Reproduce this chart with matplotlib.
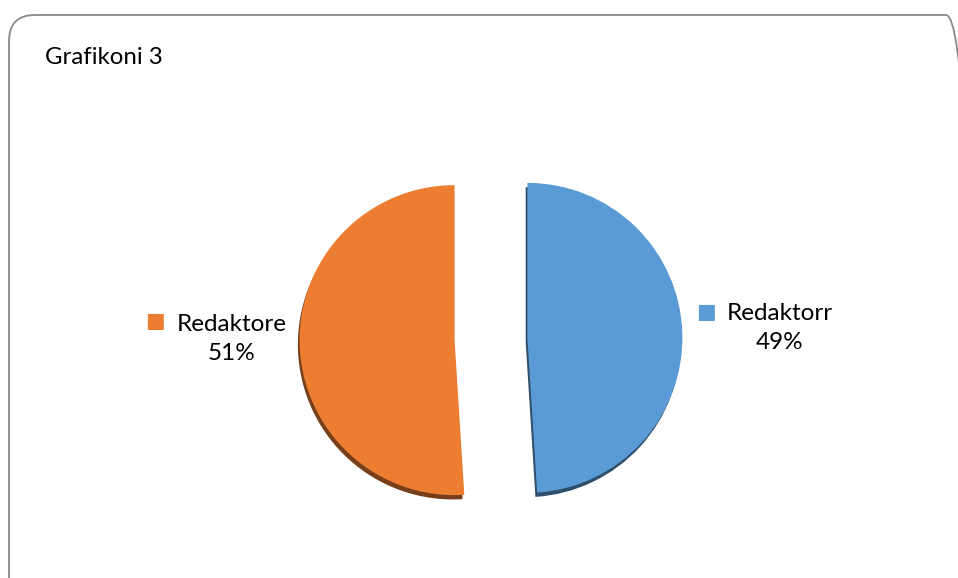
import matplotlib.pyplot as plt
from matplotlib.patches import FancyBboxPatch

labels = ['Redaktorr', 'Redaktore']
values = [49, 51]
colors = ['#5B9BD5', '#ED7D31']
title = 'Grafikoni 3'

plt.rcParams['font.family'] = ['Lato', 'DejaVu Sans']

fig = plt.figure(figsize=(9.58, 5.78), dpi=100)

# rounded frame around the chart (inches)
frame = FancyBboxPatch((0.09, -0.3), 9.63, 5.78 - 0.15 + 0.3,
                       boxstyle='round,pad=0,rounding_size=0.26',
                       transform=fig.dpi_scale_trans, fill=False,
                       edgecolor='#8a8a8a', linewidth=1.3)
fig.patches.append(frame)

fig.text(45 / 958, 1 - 57 / 578, title, fontsize=17.3, va='center', ha='left')

r_px = 155
cx, cy = 491, 339
ax = fig.add_axes([0, 0, 1, 1])

wedges, _ = ax.pie(values, colors=colors, startangle=90, counterclock=False,
                   explode=[0.235, 0.235], radius=1,
                   shadow=dict(ox=-0.008, oy=-0.02, shade=0.5, alpha=1),
                   wedgeprops=dict(linewidth=0))

ax.set_xlim(-cx / r_px, (958 - cx) / r_px)
ax.set_ylim(-(578 - cy) / r_px, cy / r_px)
ax.set_aspect('equal')
ax.axis('off')

# labels with colour squares
label_pos = {'Redaktorr': (780, 328, 706, 312), 'Redaktore': (232, 339, 155, 321)}
for lab, val, col in zip(labels, values, colors):
    tx, ty, mx, my = label_pos[lab]
    fig.text(tx / 958, 1 - ty / 578, f'{lab}\n{val}%', fontsize=17.5,
             ha='center', va='center', linespacing=1.5, color='#000000')
    fig.text(mx / 958, 1 - my / 578, '■', fontsize=15, color=col,
             ha='center', va='center', family='DejaVu Sans')

fig.savefig('out.png', dpi=100)
